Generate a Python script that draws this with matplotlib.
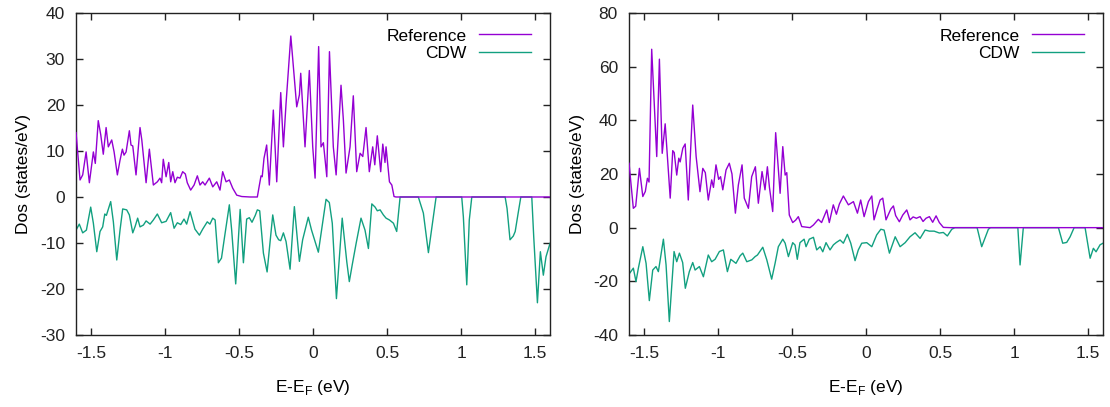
import matplotlib
matplotlib.use("Agg")
import matplotlib.pyplot as plt
from matplotlib.ticker import FormatStrFormatter

plt.rcParams['font.family'] = ['Liberation Sans', 'DejaVu Sans']
plt.rcParams['axes.unicode_minus'] = False

# left panel: energies (eV) and DOS (states/eV)
left_ref_e = [-1.600, -1.573, -1.555, -1.532, -1.510, -1.483, -1.470, -1.450, -1.433, -1.416,
              -1.397, -1.382, -1.359, -1.343, -1.321, -1.303, -1.287, -1.276, -1.262, -1.240,
              -1.229, -1.217, -1.195, -1.168, -1.156, -1.127, -1.105, -1.078, -1.051, -1.033,
              -1.022, -1.011, -0.992, -0.974, -0.961, -0.947, -0.932, -0.916, -0.898, -0.880,
              -0.862, -0.849, -0.826, -0.803, -0.781, -0.763, -0.745, -0.729, -0.700, -0.677,
              -0.650, -0.628, -0.610, -0.587, -0.565, -0.542, -0.515, -0.481, -0.425, -0.376,
              -0.362, -0.351, -0.343, -0.331, -0.313, -0.295, -0.268, -0.245, -0.218, -0.200,
              -0.182, -0.150, -0.110, -0.092, -0.083, -0.054, -0.025, -0.002, 0.014, 0.038,
              0.054, 0.070, 0.093, 0.111, 0.137, 0.156, 0.189, 0.205, 0.223, 0.250,
              0.272, 0.295, 0.318, 0.336, 0.358, 0.380, 0.403, 0.417, 0.434, 0.457,
              0.471, 0.486, 0.493, 0.516, 0.532, 0.547, 0.560, 1.600]
left_ref_d = [14.0, 3.7, 4.8, 9.8, 3.1, 9.8, 7.3, 16.6, 13.5, 9.3,
              15.1, 10.9, 12.4, 9.8, 4.8, 8.0, 10.4, 9.1, 9.8, 14.4,
              11.3, 11.1, 4.8, 15.1, 12.4, 3.1, 10.4, 2.6, 3.3, 4.1,
              3.1, 8.2, 4.4, 7.5, 3.3, 5.5, 3.1, 4.3, 4.1, 5.5,
              5.0, 3.1, 1.5, 2.6, 4.6, 2.6, 3.3, 2.6, 4.1, 2.2,
              3.3, 1.5, 5.5, 3.3, 3.7, 1.9, 0.4, 0.1, 0.0, 0.0,
              2.6, 4.6, 4.4, 8.4, 11.3, 2.6, 18.9, 3.3, 22.7, 10.9,
              20.4, 35.0, 19.6, 22.2, 26.9, 10.9, 27.5, 10.9, 4.1, 32.7,
              10.9, 11.8, 4.4, 31.6, 10.9, 4.8, 24.3, 16.7, 5.2, 10.9,
              22.0, 5.5, 9.5, 8.8, 15.1, 5.5, 10.9, 7.0, 13.3, 5.5,
              11.5, 7.5, 10.9, 3.3, 2.6, 0.1, 0.0, 0.0]

left_cdw_e = [-1.600, -1.578, -1.555, -1.530, -1.501, -1.483, -1.460, -1.438, -1.420, -1.406,
              -1.395, -1.366, -1.348, -1.325, -1.303, -1.285, -1.258, -1.240, -1.217, -1.201,
              -1.184, -1.168, -1.145, -1.127, -1.100, -1.078, -1.051, -1.022, -0.992, -0.961,
              -0.938, -0.916, -0.893, -0.871, -0.853, -0.830, -0.797, -0.767, -0.745, -0.714,
              -0.696, -0.677, -0.661, -0.639, -0.618, -0.600, -0.565, -0.549, -0.522, -0.492,
              -0.470, -0.448, -0.430, -0.412, -0.390, -0.376, -0.360, -0.335, -0.310, -0.272,
              -0.250, -0.232, -0.218, -0.200, -0.182, -0.155, -0.126, -0.092, -0.070, -0.032,
              -0.010, 0.036, 0.088, 0.110, 0.130, 0.158, 0.197, 0.228, 0.245, 0.265,
              0.291, 0.324, 0.351, 0.374, 0.397, 0.419, 0.434, 0.453, 0.475, 0.493,
              0.516, 0.543, 0.565, 0.588, 0.711, 0.745, 0.779, 0.800, 0.831, 1.004,
              1.015, 1.038, 1.055, 1.072, 1.297, 1.310, 1.330, 1.352, 1.365, 1.385,
              1.403, 1.477, 1.490, 1.515, 1.535, 1.555, 1.573, 1.600]
left_cdw_d = [-7.2, -5.9, -7.8, -7.2, -2.2, -5.7, -11.9, -7.5, -6.5, -3.7,
              -4.0, -1.0, -5.4, -13.7, -7.2, -2.6, -2.8, -3.9, -7.8, -6.4,
              -4.6, -6.5, -6.1, -5.2, -5.9, -5.0, -3.7, -5.6, -5.3, -3.4,
              -6.8, -5.6, -6.0, -4.8, -5.9, -3.2, -7.0, -8.3, -7.0, -5.4,
              -5.9, -4.6, -5.0, -14.3, -13.3, -9.3, -1.7, -7.3, -18.9, -2.7,
              -14.3, -4.8, -4.5, -5.5, -4.0, -2.8, -3.0, -12.2, -16.3, -3.9,
              -8.3, -9.3, -9.5, -7.8, -9.7, -15.7, -2.1, -14.0, -9.3, -4.4,
              -7.2, -12.0, -0.5, -1.2, -5.7, -22.1, -4.6, -14.1, -18.4, -14.7,
              -10.1, -4.6, -7.2, -11.2, -1.5, -2.2, -3.0, -2.8, -3.9, -4.6,
              -5.0, -5.7, -7.5, 0.0, 0.0, -3.5, -12.1, -7.2, 0.0, 0.0,
              -4.3, -19.1, -5.0, 0.0, 0.0, -2.5, -9.3, -8.5, -7.5, -3.5,
              0.0, 0.0, -8.6, -23.0, -11.9, -17.0, -13.0, -10.1]

# right panel
right_ref_e = [-1.600, -1.571, -1.555, -1.530, -1.507, -1.490, -1.476, -1.465, -1.447, -1.413,
               -1.395, -1.376, -1.356, -1.322, -1.305, -1.295, -1.278, -1.264, -1.255, -1.237,
               -1.221, -1.200, -1.170, -1.147, -1.121, -1.102, -1.085, -1.065, -1.042, -1.030,
               -1.013, -0.995, -0.982, -0.967, -0.945, -0.923, -0.905, -0.882, -0.862, -0.837,
               -0.822, -0.794, -0.772, -0.747, -0.727, -0.702, -0.682, -0.666, -0.652, -0.630,
               -0.610, -0.580, -0.562, -0.546, -0.535, -0.518, -0.495, -0.475, -0.457, -0.434,
               -0.378, -0.355, -0.322, -0.300, -0.265, -0.248, -0.221, -0.200, -0.180, -0.153,
               -0.119, -0.085, -0.058, -0.036, -0.013, 0.016, 0.039, 0.054, 0.077, 0.095,
               0.113, 0.135, 0.167, 0.185, 0.200, 0.225, 0.248, 0.275, 0.297, 0.318,
               0.340, 0.365, 0.385, 0.405, 0.428, 0.450, 0.473, 0.495, 0.522, 0.568, 1.600]
right_ref_d = [24.0, 7.2, 8.0, 22.1, 11.6, 13.5, 18.4, 17.0, 66.5, 26.5,
               62.8, 27.7, 38.7, 11.0, 28.7, 28.0, 19.6, 25.9, 24.5, 29.6,
               31.2, 10.3, 45.7, 26.5, 13.4, 22.1, 20.5, 10.3, 17.8, 15.0,
               23.4, 18.0, 19.0, 14.1, 21.5, 24.0, 20.0, 5.4, 15.9, 23.4,
               11.0, 7.2, 19.0, 22.7, 9.1, 20.9, 14.1, 22.7, 15.0, 6.0,
               35.4, 12.8, 30.2, 19.6, 20.5, 4.7, 1.9, 2.8, 4.1, 0.4,
               0.0, 1.0, 3.1, 1.9, 6.6, 1.9, 8.5, 5.0, 8.8, 11.8,
               8.5, 9.7, 5.4, 10.3, 4.1, 9.7, 11.8, 2.9, 7.2, 10.3,
               11.0, 2.9, 6.9, 8.1, 4.5, 2.2, 4.7, 6.6, 2.9, 4.0,
               3.5, 4.1, 2.3, 3.5, 4.1, 2.0, 4.4, 1.9, 0.1, 0.0, 0.0]

right_cdw_e = [-1.600, -1.571, -1.553, -1.537, -1.507, -1.485, -1.463, -1.440, -1.418, -1.402,
               -1.368, -1.350, -1.328, -1.296, -1.278, -1.260, -1.238, -1.220, -1.193, -1.170,
               -1.154, -1.125, -1.098, -1.065, -1.042, -1.019, -0.990, -0.963, -0.936, -0.913,
               -0.878, -0.850, -0.832, -0.805, -0.771, -0.749, -0.733, -0.697, -0.670, -0.637,
               -0.614, -0.592, -0.562, -0.546, -0.524, -0.495, -0.479, -0.464, -0.446, -0.418,
               -0.405, -0.383, -0.355, -0.333, -0.310, -0.292, -0.270, -0.243, -0.220, -0.200,
               -0.175, -0.153, -0.126, -0.103, -0.074, -0.052, -0.029, 0.005, 0.039, 0.072,
               0.100, 0.122, 0.158, 0.197, 0.230, 0.264, 0.297, 0.331, 0.365, 0.399,
               0.428, 0.460, 0.495, 0.522, 0.549, 0.579, 0.600, 0.750, 0.781, 0.826,
               0.840, 1.025, 1.040, 1.062, 1.299, 1.328, 1.355, 1.378, 1.405, 1.479,
               1.513, 1.535, 1.553, 1.580, 1.600]
right_cdw_d = [-17.3, -15.1, -20.1, -15.1, -7.1, -13.3, -27.2, -15.8, -14.5, -16.4,
               -4.3, -13.9, -35.0, -8.9, -12.7, -9.5, -13.0, -22.6, -16.4, -13.0,
               -15.8, -14.5, -18.3, -10.2, -12.7, -11.8, -8.9, -8.3, -16.4, -11.8,
               -13.3, -10.5, -9.5, -12.7, -12.0, -10.8, -10.2, -7.3, -12.0, -19.2,
               -13.3, -7.1, -4.3, -5.8, -10.8, -5.6, -6.5, -11.8, -5.6, -4.3,
               -7.1, -4.3, -3.6, -8.3, -7.1, -9.0, -5.6, -8.3, -6.4, -5.5,
               -4.6, -5.8, -2.5, -5.8, -12.3, -8.3, -5.8, -5.6, -7.1, -2.7,
               -0.6, -0.9, -9.5, -3.4, -7.1, -5.6, -3.4, -1.9, -4.0, -0.9,
               -1.3, -1.3, -2.0, -1.8, -3.1, -0.6, 0.0, 0.0, -7.1, -0.6,
               0.0, 0.0, -13.9, 0.0, 0.0, -5.8, -5.5, -3.4, 0.0, 0.0,
               -11.4, -7.7, -9.0, -6.4, -5.8]

xticks = [-1.5, -1, -0.5, 0, 0.5, 1, 1.5]

purple = '#9400d3'
green = '#12a080'

fig = plt.figure(figsize=(11.10, 4.07), dpi=100)
ax1 = fig.add_axes([0.0685, 0.177, 0.427, 0.791])
ax2 = fig.add_axes([0.5667, 0.177, 0.427, 0.791])

panels = [
    (ax1, left_ref_e, left_ref_d, left_cdw_e, left_cdw_d, (-30, 40), range(-30, 41, 10)),
    (ax2, right_ref_e, right_ref_d, right_cdw_e, right_cdw_d, (-40, 80), range(-40, 81, 20)),
]

for ax, re, rd, ce, cd, ylim, yt in panels:
    ax.plot(ce, cd, color=green, lw=1.0, label='CDW', zorder=2)
    ax.plot(re, rd, color=purple, lw=1.0, label='Reference', zorder=3)
    ax.set_xlim(-1.6, 1.6)
    ax.set_ylim(*ylim)
    ax.set_xticks(xticks)
    ax.set_yticks(list(yt))
    ax.xaxis.set_major_formatter(FormatStrFormatter('%g'))
    ax.tick_params(direction='in', top=True, right=True, length=5, width=1,
                   labelsize=12.5, pad=8, colors='#222222')
    for s in ax.spines.values():
        s.set_linewidth(1.0)
        s.set_color('#222222')
    ax.set_xlabel('E-E$_\\mathregular{F}$ (eV)', fontsize=12.5, labelpad=12)
    ax.set_ylabel('Dos (states/eV)', fontsize=12.5, labelpad=6)
    h, l = ax.get_legend_handles_labels()
    ax.legend(h[::-1], l[::-1], loc='upper right', bbox_to_anchor=(0.985, 0.99),
              frameon=False, markerfirst=False, handlelength=3.0, handletextpad=0.7,
              fontsize=12.5, labelspacing=0.15, borderaxespad=0.3)

fig.savefig('out.png', dpi=100)
